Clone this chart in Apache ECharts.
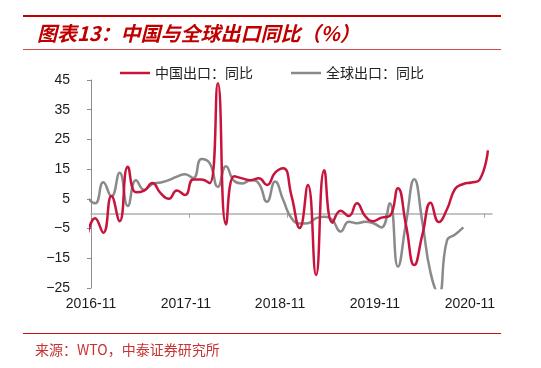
<!DOCTYPE html>
<html>
<head>
<meta charset="utf-8">
<script src="https://cdn.jsdelivr.net/npm/echarts@6.0.0/dist/echarts.min.js"></script>
<style>
  html, body { margin: 0; padding: 0; background: #ffffff; }
  #chart { width: 541px; height: 368px; }
</style>
</head>
<body>
<div id="chart"></div>
<script>
// Months (index 0 = 2016-10, partly clipped at the left edge of the plot)
const categories = [
  '2016-10','2016-11','2016-12',
  '2017-01','2017-02','2017-03','2017-04','2017-05','2017-06','2017-07','2017-08','2017-09','2017-10','2017-11','2017-12',
  '2018-01','2018-02','2018-03','2018-04','2018-05','2018-06','2018-07','2018-08','2018-09','2018-10','2018-11','2018-12',
  '2019-01','2019-02','2019-03','2019-04','2019-05','2019-06','2019-07','2019-08','2019-09','2019-10','2019-11','2019-12',
  '2020-01','2020-02','2020-03','2020-04','2020-05','2020-06','2020-07','2020-08','2020-09','2020-10','2020-11'
];

// 中国出口：同比 (%)
const chinaExport = [
  -8.0, -1.5, -6.4,
  6.0, -2.5, 15.8, 7.2, 7.8, 10.3, 6.9, 5.0, 7.8, 6.3, 11.5, 11.5,
  10.3, 43.9, -3.6, 12.6, 11.9, 11.3, 11.9, 9.7, 13.8, 15.3, 6.0, -4.8,
  9.7, -20.6, 14.6, -3.0, 1.0, -0.8, 3.5, -0.8, -2.5, -1.3, -0.8, 8.6,
  -4.0, -17.3, -7.0, 3.7, -2.8, 1.5, 8.4, 10.0, 10.5, 11.5, 21.3
];

// 全球出口：同比 (%)  (ends 2020-08)
const globalExport = [
  5.5, 3.5, 10.6,
  5.8, 13.8, 2.6, 11.3, 8.0, 10.0, 10.5, 11.3, 12.5, 13.3, 12.0, 18.4,
  17.0, 9.0, 16.0, 11.0, 10.2, 11.3, 10.2, 4.0, 10.8, 4.5, -1.5, -3.3,
  -3.2, -1.5, -1.0, -2.2, -6.0, -2.7, -3.2, -2.7, -3.2, -4.6, 3.5, -17.8,
  -3.0, 11.6, -3.0, -20.0, -27.0, -9.0, -7.0, -4.6
];

const seriesNames = ['中国出口：同比', '全球出口：同比'];
const tickLabels = ['2016-11', '2017-11', '2018-11', '2019-11', '2020-11'];
const yTicks = { min: -25, max: 45, step: 10 };

const titleText = '图表13：中国与全球出口同比（%）';
const sourceText = '来源：WTO，中泰证券研究所';

// positions of tick marks (between-month boundaries) and labels, in month-index units
const tickAt = tickLabels.map((t) => categories.indexOf(t) - 0.5);
const labelAt = [0.5, 12.1, 23.6, 35.2, 46.8];

const RED = '#c8143c';
const GRAY = '#8a8a8a';
const CJK = '"Noto Sans CJK SC", sans-serif';
const LAT = '"Liberation Sans", Arial, sans-serif';

const chart = echarts.init(document.getElementById('chart'), null, { renderer: 'canvas' });

const xMin = 0.5, xMax = categories.length - 0.5;

const legendCommon = {
  padding: 0,
  top: 66,
  icon: 'rect',
  itemWidth: 30,
  itemHeight: 2.5,
  itemGap: 5,
  textStyle: { fontSize: 14, color: '#222222', fontFamily: CJK }
};

chart.setOption({
  animation: false,
  backgroundColor: '#ffffff',
  title: {
    text: titleText,
    left: 37,
    top: 23,
    padding: 0,
    textStyle: {
      color: '#c00000',
      fontSize: 20,
      fontWeight: 'bold',
      fontStyle: 'italic',
      fontFamily: CJK
    }
  },
  legend: [
    Object.assign({ data: [seriesNames[0]], left: 120 }, legendCommon),
    Object.assign({ data: [seriesNames[1]], left: 291 }, legendCommon)
  ],
  grid: { left: 91, right: 49, top: 80, bottom: 80, containLabel: false },
  xAxis: [
    {
      type: 'value',
      min: xMin, max: xMax,
      position: 'bottom',
      axisLine: { show: false, onZero: false },
      axisTick: { show: false },
      splitLine: { show: false },
      axisLabel: {
        show: true,
        customValues: labelAt,
        margin: 9,
        fontSize: 14,
        color: '#1a1a1a',
        fontFamily: LAT,
        formatter: function (v) {
          let best = 0, d = Infinity;
          labelAt.forEach((p, k) => { const dd = Math.abs(p - v); if (dd < d) { d = dd; best = k; } });
          return tickLabels[best];
        }
      }
    },
    {
      type: 'value',
      min: xMin, max: xMax,
      position: 'top',
      axisLine: { show: true, onZero: true, lineStyle: { color: '#b0b0b0', width: 1.5 } },
      axisTick: { show: true, inside: true, length: 4, customValues: tickAt, lineStyle: { color: '#a0a0a0', width: 1 } },
      axisLabel: { show: false },
      splitLine: { show: false }
    }
  ],
  yAxis: {
    type: 'value',
    min: yTicks.min, max: yTicks.max, interval: yTicks.step,
    axisLine: { show: true, onZero: false, lineStyle: { color: '#8c8c8c', width: 1 } },
    axisTick: { show: true, length: 4, lineStyle: { color: '#8c8c8c' } },
    splitLine: { show: false },
    axisLabel: {
      margin: 21,
      fontSize: 14,
      color: '#1a1a1a',
      fontFamily: LAT,
      formatter: (v) => String(v).replace('-', '\u2212')
    }
  },
  series: [
    {
      name: seriesNames[0],
      type: 'line',
      xAxisIndex: 0,
      smooth: true,
      symbol: 'none',
      clip: true,
      z: 4,
      lineStyle: { color: RED, width: 2.5 },
      itemStyle: { color: RED },
      data: chinaExport.map((v, i) => [i, v])
    },
    {
      name: seriesNames[1],
      type: 'line',
      xAxisIndex: 0,
      smooth: true,
      symbol: 'none',
      clip: true,
      z: 3,
      lineStyle: { color: GRAY, width: 2.5 },
      itemStyle: { color: GRAY },
      data: globalExport.map((v, i) => [i, v])
    }
  ],
  graphic: [
    { type: 'line', silent: true, shape: { x1: 23, y1: 16, x2: 501, y2: 16 }, style: { stroke: '#c00000', lineWidth: 2 } },
    { type: 'line', silent: true, shape: { x1: 23, y1: 49.5, x2: 501, y2: 49.5 }, style: { stroke: '#d24a4a', lineWidth: 1 } },
    { type: 'line', silent: true, shape: { x1: 23, y1: 333.5, x2: 501, y2: 333.5 }, style: { stroke: '#d01010', lineWidth: 1 } },
    {
      type: 'text', silent: true, left: 35, top: 343,
      style: { text: sourceText, fill: '#c83232', fontSize: 14, fontFamily: CJK }
    }
  ]
});
</script>
</body>
</html>
